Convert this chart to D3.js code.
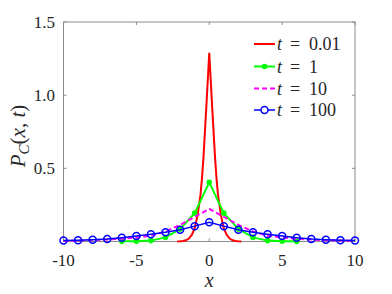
<!DOCTYPE html>
<html><head><meta charset="utf-8"><script src="https://cdn.jsdelivr.net/npm/d3@7"></script></head>
<body style="margin:0">
<script>
var width = 392,
    height = 294;

var margin = {left: 63.5, right: 37, top: 22, bottom: 53};

// t = 0.01 (smooth curve)
var redX = [-2.2, -2.0, -1.8, -1.6, -1.4, -1.2, -1.0, -0.8, -0.6, -0.5, -0.4, -0.2, 0,
            0.2, 0.4, 0.5, 0.6, 0.8, 1.0, 1.2, 1.4, 1.6, 1.8, 2.0, 2.2];
var redY = [0, 0.001, 0.003, 0.008, 0.02, 0.045, 0.09, 0.18, 0.32, 0.43, 0.57, 0.92, 1.29,
            0.92, 0.57, 0.43, 0.32, 0.18, 0.09, 0.045, 0.02, 0.008, 0.003, 0.001, 0];

// t = 1
var greenX = [-6, -5, -4, -3, -2, -1, 0, 1, 2, 3, 4, 5, 6];
var greenY = [0.001, 0.002, 0.006, 0.028, 0.085, 0.194, 0.405, 0.194, 0.085, 0.028, 0.006, 0.002, 0.001];

// t = 10
var magX = [-10, -9, -8, -7, -6, -5, -4, -3, -2, -1, 0, 1, 2, 3, 4, 5, 6, 7, 8, 9, 10];
var magY = [0.004, 0.006, 0.009, 0.013, 0.019, 0.027, 0.04, 0.068, 0.114, 0.168, 0.223,
            0.168, 0.114, 0.068, 0.04, 0.027, 0.019, 0.013, 0.009, 0.006, 0.004];

// t = 100
var blueX = [-10, -9, -8, -7, -6, -5, -4, -3, -2, -1, 0, 1, 2, 3, 4, 5, 6, 7, 8, 9, 10];
var blueY = [0.007, 0.009, 0.012, 0.017, 0.026, 0.037, 0.05, 0.064, 0.08, 0.105, 0.132,
             0.105, 0.08, 0.064, 0.05, 0.037, 0.026, 0.017, 0.012, 0.009, 0.007];

var xTicks = [-10, -5, 0, 5, 10];
var yTicks = [0.5, 1.0, 1.5];
var legendLabels = ["0.01", "1", "10", "100"];

var fam = "Liberation Serif, DejaVu Serif, Times New Roman";
var txtColor = "#262626";

var svg = d3.select("body").append("svg")
    .attr("width", width)
    .attr("height", height)
    .attr("font-family", fam);

var x = d3.scaleLinear().domain([-10, 10]).range([margin.left, width - margin.right]);
var y = d3.scaleLinear().domain([0, 1.5]).range([height - margin.bottom + 0.5, margin.top]);

var axisColor = "#8c8c8c";

function addText(sel, size) {
  return sel.append("text")
    .attr("font-family", fam)
    .attr("font-size", size)
    .attr("fill", txtColor);
}

/* box */
svg.append("rect")
    .attr("x", x(-10)).attr("y", y(1.5))
    .attr("width", x(10) - x(-10)).attr("height", y(0) - y(1.5))
    .attr("fill", "none").attr("stroke", axisColor).attr("stroke-width", 1);

/* ticks, pointing inward, mirrored on top/right */
var tl = 3;
xTicks.forEach(function(t) {
  svg.append("line").attr("x1", x(t)).attr("x2", x(t)).attr("y1", y(0)).attr("y2", y(0) - tl)
     .attr("stroke", axisColor);
  svg.append("line").attr("x1", x(t)).attr("x2", x(t)).attr("y1", y(1.5)).attr("y2", y(1.5) + tl)
     .attr("stroke", axisColor);
  addText(svg, 17).attr("x", x(t)).attr("y", 265.5)
     .attr("text-anchor", "middle")
     .text(t);
});
yTicks.forEach(function(t) {
  svg.append("line").attr("x1", x(-10)).attr("x2", x(-10) + tl).attr("y1", y(t)).attr("y2", y(t))
     .attr("stroke", axisColor);
  svg.append("line").attr("x1", x(10)).attr("x2", x(10) - tl).attr("y1", y(t)).attr("y2", y(t))
     .attr("stroke", axisColor);
  addText(svg, 17).attr("x", x(-10) - 8.5).attr("y", y(t) + 6)
     .attr("text-anchor", "end")
     .text(t.toFixed(1));
});

/* axis labels */
addText(svg, 20).attr("x", x(0)).attr("y", 287)
   .attr("text-anchor", "middle").attr("font-style", "italic")
   .text("x");

var yl = addText(svg, 21)
   .attr("transform", "translate(25,136) rotate(-90)")
   .attr("text-anchor", "middle");
yl.append("tspan").attr("font-style", "italic").text("P");
yl.append("tspan").attr("font-style", "italic").attr("font-size", 15).attr("dy", 4).text("C");
yl.append("tspan").attr("dy", -4).text("(");
yl.append("tspan").attr("font-style", "italic").text("x");
yl.append("tspan").text(", ");
yl.append("tspan").attr("font-style", "italic").text("t");
yl.append("tspan").text(")");

/* series */
var line = d3.line().x(function(d) { return x(d[0]); }).y(function(d) { return y(d[1]); });
var zip = function(a, b) { return a.map(function(v, i) { return [v, b[i]]; }); };

var plot = svg.append("g");

plot.append("path").datum(zip(redX, redY))
    .attr("d", line).attr("fill", "none").attr("stroke", "#ff0000").attr("stroke-width", 2);

plot.append("path").datum(zip(greenX, greenY))
    .attr("d", line).attr("fill", "none").attr("stroke", "#00ff00").attr("stroke-width", 2);
plot.selectAll("circle.g").data(zip(greenX, greenY)).enter().append("circle")
    .attr("class", "g").attr("cx", function(d) { return x(d[0]); }).attr("cy", function(d) { return y(d[1]); })
    .attr("r", 2.8).attr("fill", "#00ff00");

plot.append("path").datum(zip(magX, magY))
    .attr("d", line).attr("fill", "none").attr("stroke", "#ff00ff").attr("stroke-width", 2)
    .attr("stroke-dasharray", "5,3");

plot.append("path").datum(zip(blueX, blueY))
    .attr("d", line).attr("fill", "none").attr("stroke", "#0000ff").attr("stroke-width", 1.5);
plot.selectAll("circle.b").data(zip(blueX, blueY)).enter().append("circle")
    .attr("class", "b").attr("cx", function(d) { return x(d[0]); }).attr("cy", function(d) { return y(d[1]); })
    .attr("r", 3.5).attr("fill", "none").attr("stroke", "#0000ff").attr("stroke-width", 1.5);

/* legend */
var legColors = ["#ff0000", "#00ff00", "#ff00ff", "#0000ff"];
var legRowY = [44, 66.5, 88.5, 110];
legendLabels.forEach(function(lab, i) {
  var g = svg.append("g").attr("transform", "translate(254," + legRowY[i] + ")");
  g.append("line").attr("x1", 0).attr("x2", 21).attr("y1", 0).attr("y2", 0)
   .attr("stroke", legColors[i]).attr("stroke-width", i == 3 ? 1.5 : 2)
   .attr("stroke-dasharray", i == 2 ? "5,3" : null);
  if (i == 1) g.append("circle").attr("cx", 10.5).attr("cy", 0).attr("r", 2.8).attr("fill", legColors[i]);
  if (i == 3) g.append("circle").attr("cx", 10.5).attr("cy", 0).attr("r", 3.5).attr("fill", "#fff")
                .attr("stroke", legColors[i]).attr("stroke-width", 1.5);
  var t = addText(g, 18).attr("y", 6);
  t.append("tspan").attr("x", 23).attr("font-style", "italic").text("t");
  t.append("tspan").attr("x", 36).text("=");
  t.append("tspan").attr("x", 55).text(lab);
});
</script>
</body>
</html>
